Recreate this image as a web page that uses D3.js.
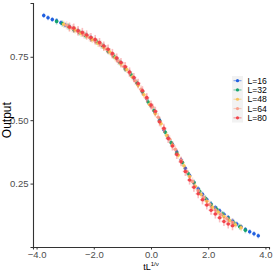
<!DOCTYPE html>
<html>
<head>
<meta charset="utf-8">
<script src="https://cdn.jsdelivr.net/npm/d3@7"></script>
<style>
  body { margin: 0; background: #fff; }
  svg { display: block; font-family: "Liberation Sans", Arial, sans-serif; }
</style>
</head>
<body>
<div id="chart"></div>
<script>
// series labels and colours
const sizes = ['L=16', 'L=32', 'L=48', 'L=64', 'L=80'];
const colors = ['#1f5fe0', '#13a36c', '#f7c45a', '#f9a08c', '#f2434a'];

// scaled variable tL^(1/v) and output
const x16 = [-3.75, -3.60, -3.45, -3.30, -3.15, -3.00, -2.85, -2.70, -2.55, -2.40, -2.25, -2.10, -1.95, -1.80, -1.65, -1.50, -1.35, -1.20, -1.05, -0.90, -0.75, -0.60, -0.45, -0.30, -0.15, 0.00, 0.15, 0.30, 0.45, 0.60, 0.75, 0.90, 1.05, 1.20, 1.35, 1.50, 1.65, 1.80, 1.95, 2.10, 2.25, 2.40, 2.55, 2.70, 2.85, 3.00, 3.15, 3.30, 3.45, 3.60, 3.75];
const y16 = [0.913, 0.904, 0.897, 0.892, 0.884, 0.875, 0.868, 0.860, 0.852, 0.844, 0.835, 0.825, 0.815, 0.804, 0.791, 0.777, 0.760, 0.743, 0.726, 0.707, 0.688, 0.666, 0.642, 0.614, 0.585, 0.557, 0.530, 0.500, 0.462, 0.430, 0.405, 0.375, 0.343, 0.310, 0.282, 0.254, 0.230, 0.208, 0.187, 0.170, 0.156, 0.143, 0.129, 0.116, 0.103, 0.091, 0.080, 0.069, 0.060, 0.052, 0.044];

const x32 = [-3.30, -3.10, -2.90, -2.70, -2.50, -2.30, -2.10, -1.90, -1.70, -1.50, -1.30, -1.10, -0.90, -0.70, -0.50, -0.30, -0.10, 0.10, 0.30, 0.50, 0.70, 0.90, 1.10, 1.30, 1.50, 1.70, 1.90, 2.10, 2.30, 2.50, 2.70, 2.90, 3.10, 3.30];
const y32 = [0.889, 0.881, 0.870, 0.857, 0.846, 0.834, 0.822, 0.809, 0.793, 0.772, 0.752, 0.728, 0.702, 0.680, 0.648, 0.612, 0.572, 0.538, 0.497, 0.452, 0.412, 0.370, 0.333, 0.290, 0.254, 0.220, 0.192, 0.167, 0.149, 0.130, 0.112, 0.095, 0.080, 0.066];

const x48 = [-3.05, -2.85, -2.65, -2.45, -2.25, -2.05, -1.85, -1.65, -1.45, -1.25, -1.05, -0.85, -0.65, -0.45, -0.25, -0.05, 0.15, 0.35, 0.55, 0.75, 0.95, 1.15, 1.35, 1.55, 1.75, 1.95, 2.15, 2.35, 2.55, 2.75, 2.95, 3.15];
const y48 = [0.878, 0.866, 0.856, 0.843, 0.832, 0.818, 0.803, 0.788, 0.770, 0.746, 0.722, 0.700, 0.670, 0.638, 0.600, 0.562, 0.526, 0.486, 0.440, 0.402, 0.362, 0.320, 0.278, 0.240, 0.207, 0.180, 0.157, 0.138, 0.120, 0.104, 0.088, 0.076];

const x64 = [-2.95, -2.75, -2.55, -2.35, -2.15, -1.95, -1.75, -1.55, -1.35, -1.15, -0.95, -0.75, -0.55, -0.35, -0.15, 0.05, 0.25, 0.45, 0.65, 0.85, 1.05, 1.25, 1.45, 1.65, 1.85, 2.05, 2.25, 2.45, 2.65, 2.85];
const y64 = [0.874, 0.862, 0.849, 0.838, 0.826, 0.812, 0.798, 0.780, 0.757, 0.734, 0.712, 0.686, 0.655, 0.622, 0.586, 0.552, 0.512, 0.465, 0.425, 0.385, 0.342, 0.297, 0.258, 0.222, 0.194, 0.168, 0.146, 0.128, 0.112, 0.097];

const x80 = [-2.85, -2.70, -2.55, -2.40, -2.25, -2.10, -1.95, -1.80, -1.65, -1.50, -1.35, -1.20, -1.05, -0.90, -0.75, -0.60, -0.45, -0.30, -0.15, 0.00, 0.15, 0.30, 0.45, 0.60, 0.75, 0.90, 1.05, 1.20, 1.35, 1.50, 1.65, 1.80, 1.95, 2.10, 2.25, 2.40, 2.55, 2.70, 2.85];
const y80 = [0.867, 0.863, 0.853, 0.846, 0.836, 0.826, 0.818, 0.806, 0.792, 0.780, 0.763, 0.745, 0.727, 0.711, 0.690, 0.668, 0.645, 0.616, 0.589, 0.560, 0.535, 0.494, 0.468, 0.428, 0.398, 0.365, 0.336, 0.298, 0.264, 0.236, 0.210, 0.186, 0.166, 0.145, 0.130, 0.115, 0.101, 0.091, 0.084];

// error bar half widths per series
const xErr = [0.05, 0.06, 0.07, 0.08, 0.09];
const yErr = [0.010, 0.012, 0.014, 0.016, 0.018];

const xTicks = [-4, -2, 0, 2, 4];
const yTicks = [0.25, 0.50, 0.75];

const xs = [x16, x32, x48, x64, x80];
const ys = [y16, y32, y48, y64, y80];

const series = sizes.map((name, i) => ({
  name,
  color: colors[i],
  ex: xErr[i],
  ey: yErr[i],
  points: xs[i].map((x, j) => ({ x, y: ys[i][j] })),
}));

const width = 273;
const height = 273;
const margin = { top: 3, right: 4, bottom: 26, left: 33 };

const svg = d3.select('#chart').append('svg')
  .attr('width', width)
  .attr('height', height);

const x = d3.scaleLinear()
  .domain([-4.125, 4.125])
  .range([margin.left, width - margin.right]);

const y = d3.scaleLinear()
  .domain([0.0, 0.962])
  .range([height - margin.bottom, margin.top]);

const plot = svg.append('g');

series.forEach((s) => {
  const g = plot.append('g');
  // faint error bars
  g.selectAll('line.h')
    .data(s.points)
    .join('line')
    .attr('class', 'h')
    .attr('x1', (d) => x(d.x - s.ex))
    .attr('x2', (d) => x(d.x + s.ex))
    .attr('y1', (d) => y(d.y))
    .attr('y2', (d) => y(d.y))
    .attr('stroke', s.color)
    .attr('stroke-opacity', 0.35)
    .attr('stroke-width', 1.6);
  g.selectAll('line.v')
    .data(s.points)
    .join('line')
    .attr('class', 'v')
    .attr('x1', (d) => x(d.x))
    .attr('x2', (d) => x(d.x))
    .attr('y1', (d) => y(d.y - s.ey))
    .attr('y2', (d) => y(d.y + s.ey))
    .attr('stroke', s.color)
    .attr('stroke-opacity', 0.35)
    .attr('stroke-width', 1.6);
  g.selectAll('circle')
    .data(s.points)
    .join('circle')
    .attr('cx', (d) => x(d.x))
    .attr('cy', (d) => y(d.y))
    .attr('r', 1.75)
    .attr('fill', s.color);
});

// axes
const xAxis = svg.append('g')
  .attr('transform', `translate(0,${height - margin.bottom})`)
  .call(d3.axisBottom(x).tickValues(xTicks).tickFormat(d3.format('.1f')).tickSize(2.5).tickPadding(2));

const yAxis = svg.append('g')
  .attr('transform', `translate(${margin.left},0)`)
  .call(d3.axisLeft(y).tickValues(yTicks).tickFormat(d3.format('.2f')).tickSize(2.5).tickPadding(2));

[xAxis, yAxis].forEach((a) => {
  a.select('.domain').attr('stroke', '#333').attr('stroke-width', 1.1);
  a.selectAll('.tick line').attr('stroke', '#333');
  a.selectAll('.tick text')
    .attr('fill', '#4d4d4d')
    .style('font-size', '9.5px');
});

// axis titles
svg.append('text')
  .attr('transform', `translate(11,${y(0.5)}) rotate(-90)`)
  .attr('text-anchor', 'middle')
  .style('font-size', '12px')
  .attr('fill', '#000')
  .text('Output');

const xt = svg.append('text')
  .attr('x', x(0))
  .attr('y', 270)
  .attr('text-anchor', 'middle')
  .style('font-size', '9px')
  .attr('fill', '#000');
xt.append('tspan').text('tL');
xt.append('tspan').attr('dy', -4).style('font-size', '6px').text('1/\u03bd');

// legend
const legend = svg.append('g').attr('transform', 'translate(232,76)');
const keyH = 9.3;
legend.append('rect')
  .attr('width', 11)
  .attr('height', keyH * sizes.length)
  .attr('fill', '#f2f2f2');

const item = legend.selectAll('g.item')
  .data(series)
  .join('g')
  .attr('class', 'item')
  .attr('transform', (d, i) => `translate(0,${keyH * i + keyH / 2})`);
item.append('line')
  .attr('x1', 1.5).attr('x2', 9.5)
  .attr('stroke', (d) => d.color)
  .attr('stroke-opacity', 0.5)
  .attr('stroke-width', 1.2);
item.append('circle')
  .attr('cx', 5.5)
  .attr('r', 1.6)
  .attr('fill', (d) => d.color);
item.append('text')
  .attr('x', 15.5)
  .attr('dy', '0.35em')
  .style('font-size', '8.6px')
  .attr('fill', '#000')
  .text((d) => d.name);
</script>
</body>
</html>
